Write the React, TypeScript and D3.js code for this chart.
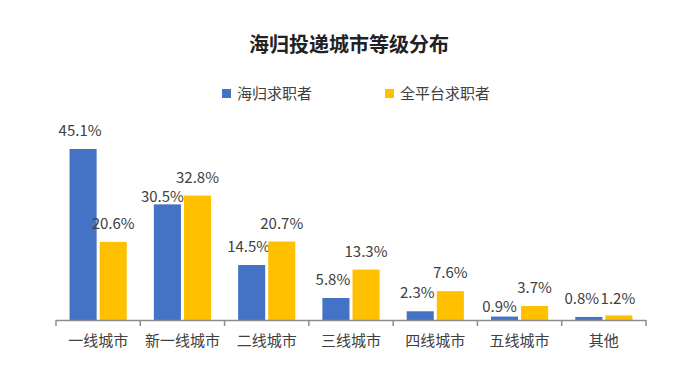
import React from 'react';
import * as d3 from 'd3';

const categories = ['一线城市', '新一线城市', '二线城市', '三线城市', '四线城市', '五线城市', '其他'];
const seriesNames = ['海归求职者', '全平台求职者'];
const returnees = [45.1, 30.5, 14.5, 5.8, 2.3, 0.9, 0.8];
const allPlatform = [20.6, 32.8, 20.7, 13.3, 7.6, 3.7, 1.2];
const colors = ['#4472C4', '#FFC000'];
const title = '海归投递城市等级分布';

const W = 680;
const H = 379;
const FONT = '"Noto Sans CJK SC", "Noto Sans", sans-serif';
const BASE = 320;

export default function App() {
  const x = d3.scaleBand<string>().domain(categories).range([56, 646]).paddingInner(0).paddingOuter(0);
  const xs = d3.scaleBand<string>().domain(seriesNames).range([0, x.bandwidth()]).paddingInner(0.1).paddingOuter(0.45);
  const y = d3.scaleLinear().domain([0, 45.1]).range([BASE, 149]);
  const data = [returnees, allPlatform];
  const ticks = categories.map((c) => x(c) as number).concat([646]);
  const bw = xs.bandwidth();

  // label placement with simple collision avoidance
  const labels = categories.map((c, ci) => {
    const pos = seriesNames.map((s, si) => {
      const v = data[si][ci];
      const bx = (x(c) as number) + (xs(s) as number);
      return { v, cx: bx + bw / 2 + (si === 0 ? -3 : 0), by: y(v) - 13, bx, top: y(v) };
    });
    const [a, b] = pos;
    if (Math.abs(a.by - b.by) < 16) {
      if (a.v < b.v && b.by + 19 <= a.top - 2) {
        a.by = b.by + 19;
        a.cx -= 2;
      } else {
        a.cx -= 4;
        b.cx -= 1;
        const m = Math.max(a.by, b.by);
        a.by = m;
        b.by = m;
      }
    }
    return pos;
  });

  return (
    <svg width={W} height={H} style={{ position: 'absolute', left: 0, top: 0, background: '#fff' }} fontFamily={FONT}>
      <rect x={0} y={0} width={W} height={H} fill="#fff" />
      <text x={349} y={52} textAnchor="middle" fontSize={20} fontWeight="bold" fill="#222">{title}</text>
      {seriesNames.map((s, i) => {
        const lx = i === 0 ? 222 : 385;
        return (
          <g key={s}>
            <rect x={lx} y={89} width={9} height={9} fill={colors[i]} />
            <text x={lx + 15} y={99} fontSize={15} fill="#404040">{s}</text>
          </g>
        );
      })}
      {categories.map((c, ci) => (
        <g key={c}>
          {seriesNames.map((s, si) => {
            const L = labels[ci][si];
            return (
              <g key={s}>
                <rect x={L.bx} y={L.top} width={bw} height={BASE - L.top} fill={colors[si]} />
                <text x={L.cx} y={L.by} textAnchor="middle" fontSize={15} fill="#404040">{L.v.toFixed(1)}%</text>
              </g>
            );
          })}
          <text x={(x(c) as number) + x.bandwidth() / 2} y={346} textAnchor="middle" fontSize={15} fill="#404040">{c}</text>
        </g>
      ))}
      <line x1={56} x2={646} y1={320.5} y2={320.5} stroke="#8c8c8c" strokeWidth={1.5} />
      {ticks.map((t, i) => (
        <line key={i} x1={t} x2={t} y1={320} y2={326} stroke="#8c8c8c" strokeWidth={1.5} />
      ))}
    </svg>
  );
}
